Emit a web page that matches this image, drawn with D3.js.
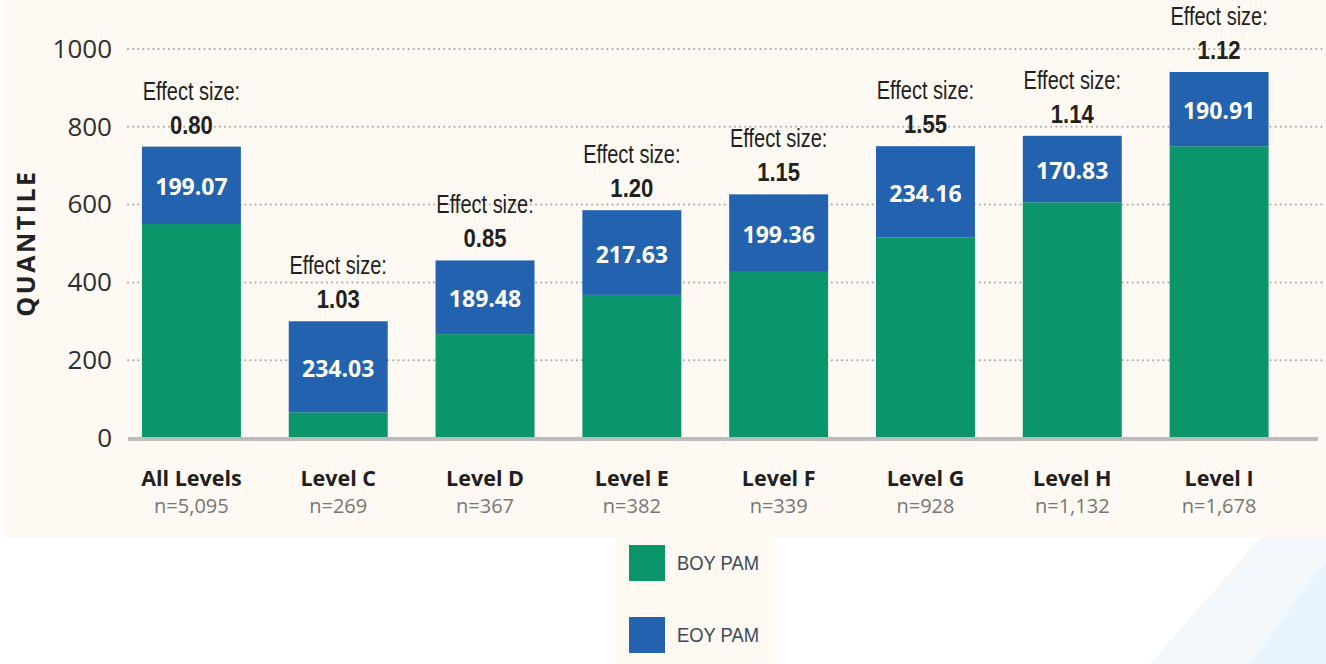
<!DOCTYPE html>
<html>
<head>
<meta charset="utf-8">
<script src="https://cdn.jsdelivr.net/npm/d3@7"></script>
<style>
  html, body { margin: 0; padding: 0; background: #ffffff; }
  svg { display: block; }
</style>
</head>
<body>
<div id="chart"></div>
<script>
// data
var categories = ["All Levels", "Level C", "Level D", "Level E", "Level F", "Level G", "Level H", "Level I"];
var counts = ["n=5,095", "n=269", "n=367", "n=382", "n=339", "n=928", "n=1,132", "n=1,678"];
var boyPam = [550, 66, 267, 368, 427, 516, 606, 750];
var gainPam = [199.07, 234.03, 189.48, 217.63, 199.36, 234.16, 170.83, 190.91];
var effectSizes = ["0.80", "1.03", "0.85", "1.20", "1.15", "1.55", "1.14", "1.12"];
var yTicks = [0, 200, 400, 600, 800, 1000];
var seriesNames = ["BOY PAM", "EOY PAM"];

var width = 1326, height = 664;
var green = "#0a966a", blue = "#2262ae", cream = "#fef9f3";
// narrow look: Liberation Sans squeezed horizontally
var narrow = "'Liberation Sans', Arial, sans-serif";

var svg = d3.select("#chart").append("svg")
    .attr("width", width)
    .attr("height", height);

// backgrounds
svg.append("rect").attr("x", 3).attr("y", 0).attr("width", width - 3).attr("height", 538).attr("fill", cream);

// faint decoration bottom right
svg.append("polygon").attr("points", "1150,664 1260,538 1326,538 1326,664").attr("fill", "#f3f8fd");
svg.append("polygon").attr("points", "1250,664 1326,560 1326,664").attr("fill", "#e8f3fb");

var data = categories.map(function (c, i) {
    return { cat: c, n: counts[i], boy: boyPam[i], gain: gainPam[i], eff: effectSizes[i] };
});

var x = d3.scaleBand()
    .domain(categories)
    .range([118, 1292.5])
    .paddingInner(0.326)
    .paddingOuter(0.163);

var y = d3.scaleLinear()
    .domain([0, 1000])
    .range([438, 49]);

// dotted grid lines
svg.append("g")
    .selectAll("line")
    .data(yTicks.filter(function (d) { return d > 0; }))
    .enter()
    .append("line")
    .attr("x1", 128)
    .attr("x2", width)
    .attr("y1", function (d) { return y(d); })
    .attr("y2", function (d) { return y(d); })
    .attr("stroke", "#a9a9a9")
    .attr("stroke-width", 2)
    .attr("stroke-linecap", "round")
    .attr("stroke-dasharray", "0.1,5");

// y axis labels
var yAxis = svg.append("g")
    .attr("transform", "translate(112,0)")
    .call(d3.axisLeft(y).tickValues(yTicks).tickFormat(d3.format("d")).tickSize(0).tickPadding(0));
yAxis.select(".domain").remove();
yAxis.selectAll("text")
    .attr("font-family", "'Open Sans', sans-serif")
    .attr("font-size", "26px")
    .attr("fill", "#2e2e2e");

svg.append("text")
    .attr("transform", "translate(35,243) rotate(-90)")
    .attr("text-anchor", "middle")
    .attr("font-family", "'Open Sans', sans-serif")
    .attr("font-weight", "bold")
    .attr("font-size", "25px")
    .attr("letter-spacing", "2.5px")
    .attr("fill", "#222")
    .text("QUANTILE");

// stacked bars
var stacked = d3.stack().keys(["boy", "gain"])(data);
var color = d3.scaleOrdinal().domain(["boy", "gain"]).range([green, blue]);

svg.append("g")
    .selectAll("g")
    .data(stacked)
    .enter()
    .append("g")
    .attr("fill", function (d) { return color(d.key); })
    .selectAll("rect")
    .data(function (d) { return d; })
    .enter()
    .append("rect")
    .attr("x", function (d) { return x(d.data.cat); })
    .attr("width", x.bandwidth())
    .attr("y", function (d) { return y(d[1]); })
    .attr("height", function (d) { return y(d[0]) - y(d[1]); });

// baseline
svg.append("line")
    .attr("x1", 128).attr("x2", 1318)
    .attr("y1", y(0) + 1).attr("y2", y(0) + 1)
    .attr("stroke", "#bcbcbc")
    .attr("stroke-width", 4);

// gain labels inside blue
svg.append("g")
    .selectAll("text")
    .data(data)
    .enter()
    .append("text")
    .attr("x", function (d) { return x(d.cat) + x.bandwidth() / 2; })
    .attr("y", function (d) { return y(d.boy + d.gain / 2) + 10; })
    .attr("text-anchor", "middle")
    .attr("font-family", "'Open Sans', sans-serif")
    .attr("font-weight", "bold")
    .attr("font-size", "23px")
    .attr("fill", "#ffffff")
    .text(function (d) { return d.gain.toFixed(2); });

// effect size labels
var eff = svg.append("g")
    .selectAll("g")
    .data(data)
    .enter()
    .append("g")
    .attr("transform", function (d) {
        return "translate(" + (x(d.cat) + x.bandwidth() / 2) + "," + y(d.boy + d.gain) + ")";
    });
eff.append("text")
    .attr("transform", "translate(0,-47) scale(0.8,1)")
    .attr("text-anchor", "middle")
    .attr("font-family", narrow)
    .attr("font-size", "25px")
    .attr("fill", "#231f20")
    .text("Effect size:");
eff.append("text")
    .attr("transform", "translate(0,-13) scale(0.85,1)")
    .attr("text-anchor", "middle")
    .attr("font-family", narrow)
    .attr("font-weight", "bold")
    .attr("font-size", "26px")
    .attr("fill", "#231f20")
    .text(function (d) { return d.eff; });

// category labels
var cl = svg.append("g")
    .selectAll("g")
    .data(data)
    .enter()
    .append("g")
    .attr("transform", function (d) { return "translate(" + (x(d.cat) + x.bandwidth() / 2) + ",0)"; });
cl.append("text")
    .attr("y", 486)
    .attr("text-anchor", "middle")
    .attr("font-family", "'Open Sans', sans-serif")
    .attr("font-weight", "bold")
    .attr("font-size", "21.5px")
    .attr("fill", "#231f20")
    .text(function (d) { return d.cat; });
cl.append("text")
    .attr("y", 513)
    .attr("text-anchor", "middle")
    .attr("font-family", "'Open Sans', sans-serif")
    .attr("font-size", "20px")
    .attr("fill", "#777777")
    .text(function (d) { return d.n; });

// legend
svg.append("rect").attr("x", 616).attr("y", 538).attr("width", 159).attr("height", 126).attr("fill", cream);
var legend = svg.append("g")
    .selectAll("g")
    .data(seriesNames)
    .enter()
    .append("g")
    .attr("transform", function (d, i) { return "translate(629," + (545 + i * 72) + ")"; });
legend.append("rect")
    .attr("width", 36)
    .attr("height", 36)
    .attr("fill", function (d, i) { return i === 0 ? green : blue; });
legend.append("text")
    .attr("transform", "translate(48,25) scale(0.92,1)")
    .attr("font-family", narrow)
    .attr("font-size", "20px")
    .attr("fill", "#3e4a59")
    .text(function (d) { return d; });
</script>
</body>
</html>
